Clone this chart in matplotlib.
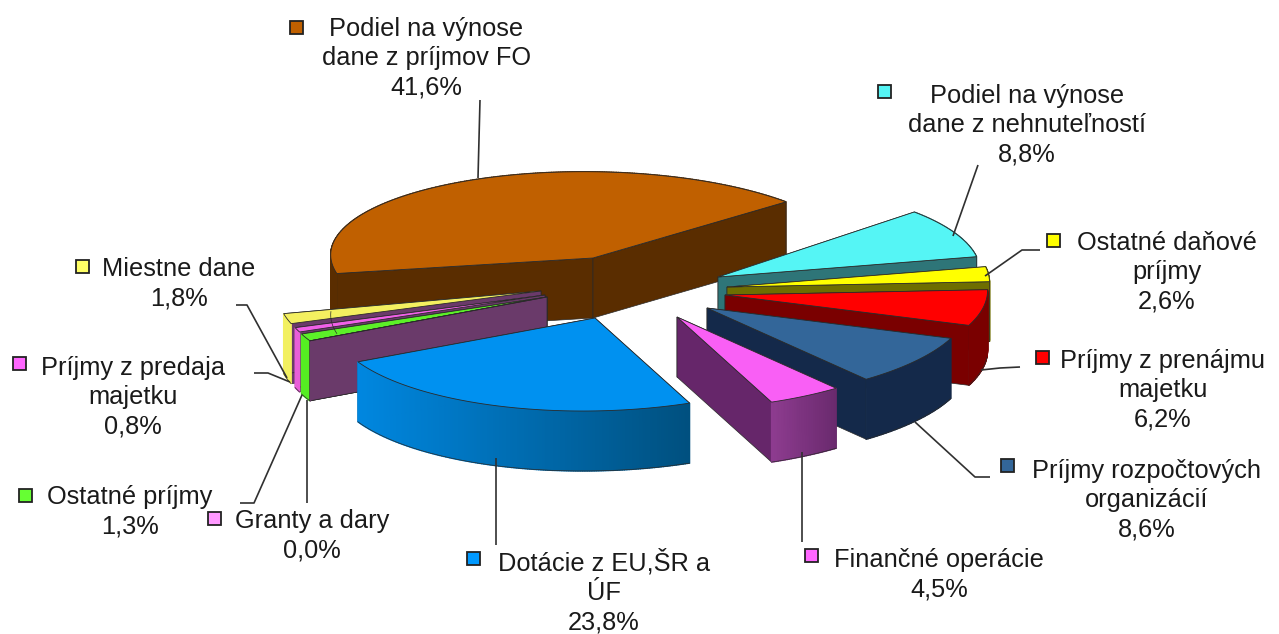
import numpy as np
import matplotlib
matplotlib.use("Agg")
from matplotlib import pyplot as plt
from matplotlib.patches import Polygon, Rectangle
from matplotlib.colors import to_rgb

plt.rcParams['font.family'] = ['Liberation Sans', 'DejaVu Sans']

# data, clockwise starting from the big slice
categories = ["Podiel na výnose\ndane z príjmov FO", "Podiel na výnose\ndane z nehnuteľností",
              "Ostatné daňové\npríjmy", "Príjmy z prenájmu\nmajetku",
              "Príjmy rozpočtových\norganizácií", "Finančné operácie",
              "Dotácie z EU,ŠR a\nÚF", "Granty a dary", "Ostatné príjmy",
              "Príjmy z predaja\nmajetku", "Miestne dane"]
values = [41.6, 8.8, 2.6, 6.2, 8.6, 4.5, 23.8, 0.0, 1.3, 0.8, 1.8]

# styles
top_colors = ['#C06000', '#55F5F5', '#FFFF00', '#FF0000', '#336699', '#F95FF5',
              '#0091F0', '#6A3A6A', '#5CF028', '#F060E8', '#F4F060']
wall_colors = ['#5A2D00', '#2E7578', '#6E6E00', '#7A0000', '#14294A', '#66266A',
               '#0087E0', '#6A3A6A', '#6A3A6A', '#6A3A6A', '#6A3A6A']
outer_left = ['#5A2D00', '#2E7578', '#6E6E00', '#7A0000', '#14294A', '#8E3C90',
              '#0087E0', '#6A3A6A', '#55EE22', '#E95FD8', '#F2F060']
outer_right = ['#5A2D00', '#2E7578', '#6E6E00', '#7A0000', '#14294A', '#6A2A6E',
               '#00507F', '#6A3A6A', '#55EE22', '#E95FD8', '#F2F060']
key_colors = ['#C06000', '#55F5F5', '#FFFF00', '#FF0000', '#336699', '#FF66FF',
              '#0099FF', '#FF99FF', '#66FF33', '#FF66FF', '#FFFF66']

# layout in pixels
apex = [(593, 258), (718, 277), (727, 287), (725, 295), (707, 308), (677, 317),
        (595, 318), (547, 297), (547, 297), (545, 295), (541, 291)]
text_pos = [(426, 58), (1027, 125), (1167, 272), (1163, 390), (1147, 500), (939, 575),
            (604, 592), (312, 536), (130, 512), (133, 397), (179, 284)]
key_pos = [(296, 27), (884, 91), (1053, 240), (1042, 357), (1007, 465), (811, 555),
           (473, 558), (214, 518), (25, 495), (19, 363), (82, 266)]
leaders = [[(480, 100), (478, 178)],
           [(978, 165), (953, 236)],
           [(985, 276), (1022, 250), (1040, 250)],
           [(981, 370), (1000, 368), (1020, 367)],
           [(915, 422), (975, 477), (990, 477)],
           [(802, 452), (802, 542)],
           [(496, 458), (496, 545)],
           [(307, 400), (307, 503)],
           [(302, 395), (254, 503), (240, 503)],
           [(290, 382), (268, 373), (254, 373)],
           [(287, 378), (247, 305), (236, 305)]]
draw_order = [0, 1, 2, 3, 4, 5, 10, 9, 8, 7, 6]

depth = 60
start_angle = -105.0
front_shape = (262, 16.5, 93, 1.5)
back_shape = (262, 12, 86, 7)


def ring(a_deg, shape):
    # point on the squashed circle, a measured clockwise from the top
    a = np.radians(a_deg)
    rx, sx, ry, sy = shape
    return rx * np.sin(a) + sx * np.cos(a), -ry * np.cos(a) + sy * np.sin(a)


def mix(c1, c2, t):
    c1, c2 = np.array(to_rgb(c1)), np.array(to_rgb(c2))
    return tuple(c1 + (c2 - c1) * t)


fig = plt.figure(figsize=(12.79, 6.34), dpi=100)
ax = fig.add_axes([0, 0, 1, 1])
ax.set_xlim(0, 1279)
ax.set_ylim(634, 0)
ax.axis('off')

edges = start_angle + np.cumsum([0] + values) * 3.6
edge_col = '#2A2A2A'

for i in draw_order:
    a1, a2 = edges[i], edges[i + 1]
    shape = back_shape if i == 0 else front_shape
    cx, cy = apex[i]
    angs = np.linspace(a1, a2, max(int(a2 - a1) * 2, 2))
    xs, ys = ring(angs, shape)
    xs, ys = xs + cx, ys + cy

    # outer strips that face away sit behind everything else of the slice
    def strips(front):
        for k in range(len(angs) - 1):
            is_front = np.cos(np.radians(angs[k])) <= 0
            if is_front != front:
                continue
            t = (xs[k] - xs.min()) / max(xs.max() - xs.min(), 1)
            col = mix(outer_left[i], outer_right[i], t)
            ax.add_patch(Polygon([(xs[k], ys[k]), (xs[k + 1], ys[k + 1]),
                                  (xs[k + 1], ys[k + 1] + depth), (xs[k], ys[k] + depth)],
                                 fc=col, ec=col, lw=1.0))

    strips(False)
    for x, y in [(xs[0], ys[0]), (xs[-1], ys[-1])]:
        ax.add_patch(Polygon([(cx, cy), (x, y), (x, y + depth), (cx, cy + depth)],
                             fc=wall_colors[i], ec=edge_col, lw=0.5))
    strips(True)
    # outline of the front of the outer wall
    mask = np.cos(np.radians(angs)) <= 0
    if mask.any():
        ax.plot(xs[mask], ys[mask] + depth, color=edge_col, lw=0.5)
    top = [(cx, cy)] + list(zip(xs, ys))
    ax.add_patch(Polygon(top, fc=top_colors[i], ec=edge_col, lw=0.6))

for line in leaders:
    px, py = zip(*line)
    ax.plot(px, py, color='#303030', lw=1.2, solid_capstyle='butt')

for name, val, (tx, ty), (kx, ky), col in zip(categories, values, text_pos, key_pos, key_colors):
    label = name + "\n" + f"{val:.1f}".replace('.', ',') + "%"
    ax.text(tx, ty, label, ha='center', va='center', fontsize=18.3,
            linespacing=1.28, color='#1A1A1A')
    ax.add_patch(Rectangle((kx - 6.5, ky - 6.5), 13, 13, fc=col, ec='#222222', lw=1.3))

fig.savefig("out.png", dpi=100)
